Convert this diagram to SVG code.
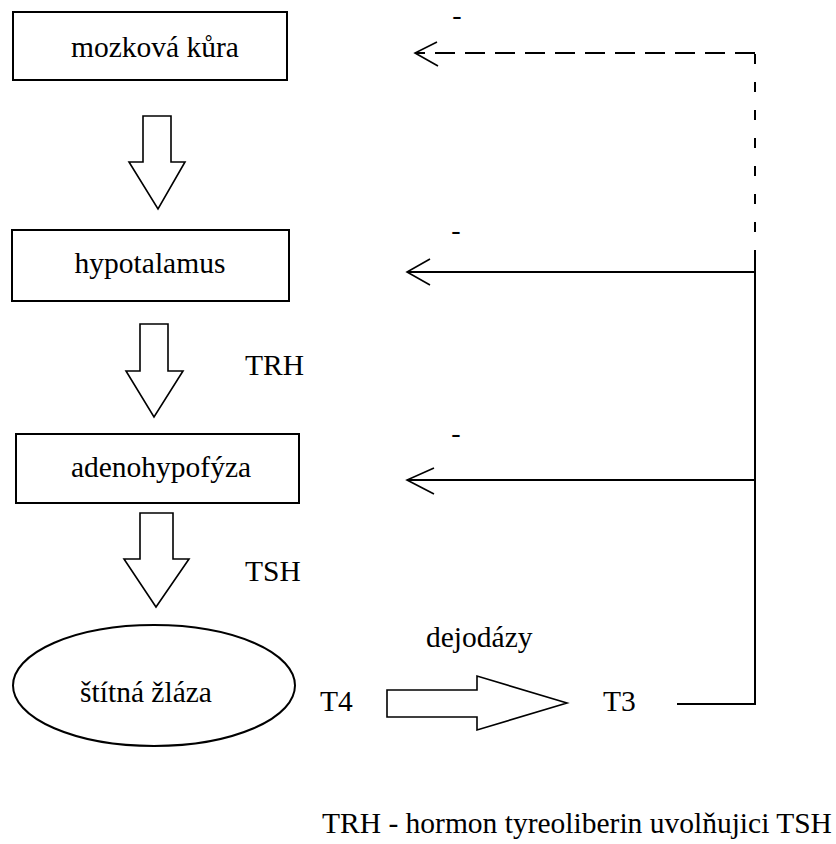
<svg xmlns="http://www.w3.org/2000/svg" width="836" height="844" viewBox="0 0 836 844" font-family="'Liberation Serif', 'DejaVu Serif', serif">
<style>
text{font-family:'Liberation Serif','DejaVu Serif',serif;font-size:29.5px;fill:#000}
.c{text-anchor:middle}
.box{fill:#fff;stroke:#000;stroke-width:2}
.blk{fill:#fff;stroke:#000;stroke-width:1.6;stroke-linejoin:miter}
.ln{fill:none;stroke:#000;stroke-width:2}
.dh{fill:none;stroke:#000;stroke-width:2;stroke-dasharray:20 10}
.dv{fill:none;stroke:#000;stroke-width:2;stroke-dasharray:10 18}
.hd{fill:none;stroke:#000;stroke-width:1.6}
.minus{font-size:28px}
</style>
<rect width="836" height="844" fill="#fff"/>
<g id="mozkova-kura">
<rect class="box" x="13" y="12" width="274" height="68"/>
<text class="c" x="155" y="57">mozková kůra</text>
</g>
<g id="hypotalamus">
<rect class="box" x="12" y="230" width="277" height="71"/>
<text class="c" x="150" y="273">hypotalamus</text>
</g>
<g id="adenohypofyza">
<rect class="box" x="16" y="434" width="283" height="69"/>
<text class="c" x="161" y="477">adenohypofýza</text>
</g>
<g id="stitna-zlaza">
<ellipse class="box" cx="154" cy="685.5" rx="141" ry="60.5"/>
<text class="c" x="146" y="702">štítná žláza</text>
</g>
<g id="T4"><text x="320" y="711">T4</text></g>
<g id="T3"><text x="603" y="711">T3</text></g>
<g id="connectors">
<polygon class="blk" points="143,116 171,116 171,162 185,162 158,209 129,162 143,162"/>
<polygon class="blk" points="140,324 168,324 168,371 183,371 154,417 126,371 140,371"/>
<polygon class="blk" points="140,513 173,513 173,559 189,559 156,607 124,559 140,559"/>
<polygon class="blk" points="387,690 477,690 477,676 567,703 477,730 477,717 387,717"/>
<path class="ln" d="M677,704 H755 V260"/>
<path class="dv" d="M755,260 V53"/>
<path class="dh" d="M755,53 H415"/>
<path class="ln" d="M755,272 H407"/>
<path class="ln" d="M755,480 H407"/>
<path class="hd" d="M437,42 L415,53 L438,66"/>
<path class="hd" d="M430,259 L407,272 L430,285"/>
<path class="hd" d="M434,468 L407,480 L434,494"/>
</g>
<g id="labels">
<text x="245" y="375">TRH</text>
<text x="245" y="581">TSH</text>
<text x="426" y="647">dejodázy</text>
<text class="minus c" x="457" y="24">-</text>
<text class="minus c" x="456" y="239">-</text>
<text class="minus c" x="456" y="442">-</text>
<text x="322" y="833">TRH - hormon tyreoliberin uvolňujici TSH</text>
</g>
</svg>
